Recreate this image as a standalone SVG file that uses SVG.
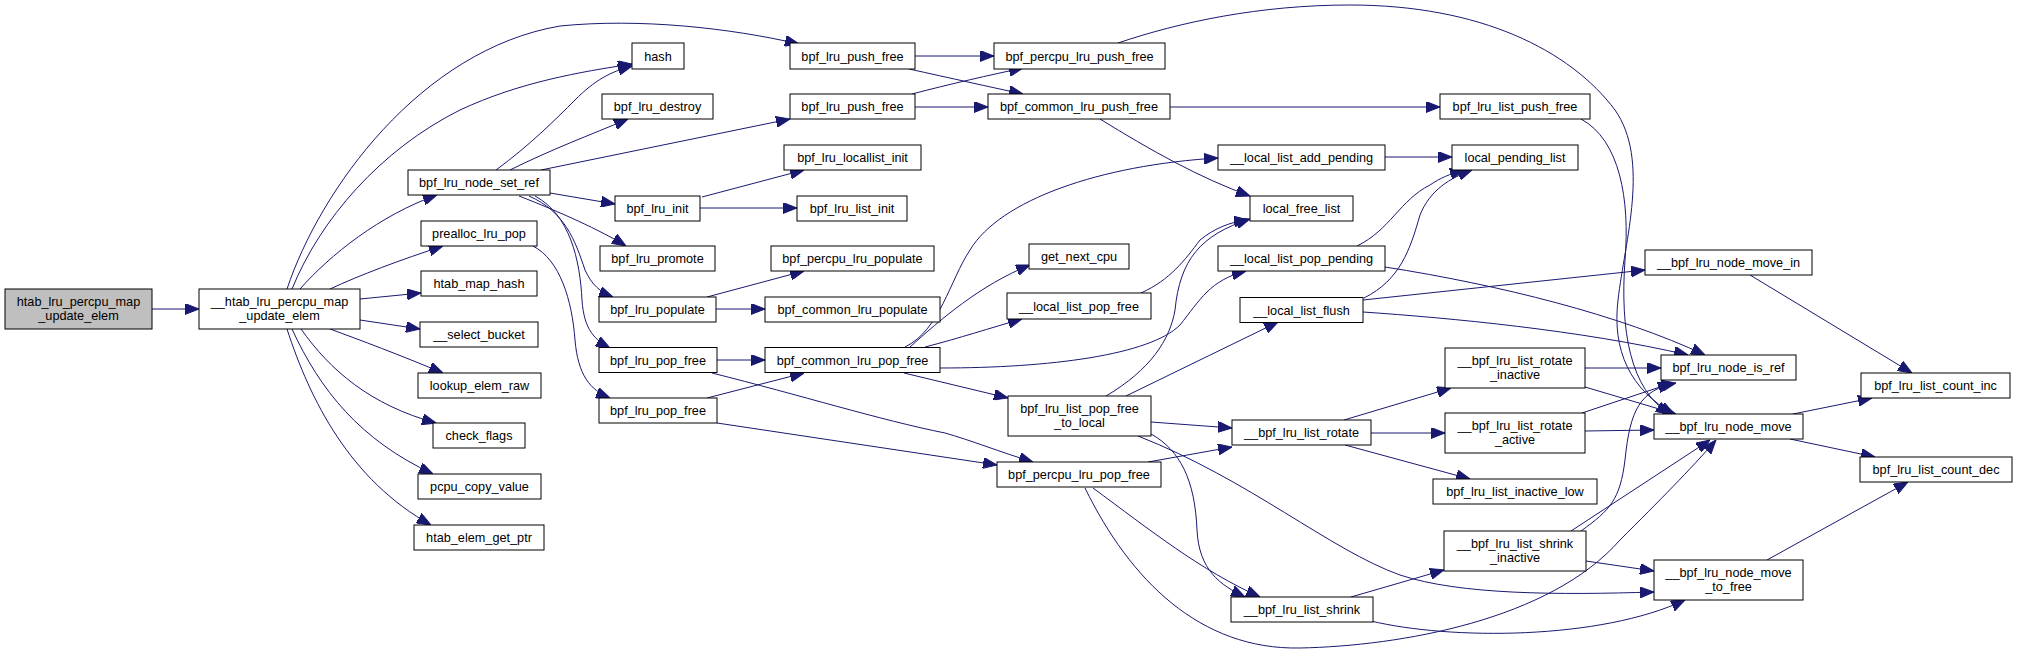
<svg xmlns="http://www.w3.org/2000/svg" width="2017" height="656" viewBox="0 0 2017 656">
<style>
.n rect{fill:#fff;stroke:#000;stroke-width:1}
.root rect{fill:#bfbfbf}
text{font-family:"Liberation Sans",Arial,sans-serif;font-size:12.7px;fill:#000;text-anchor:middle}
.e path{fill:none;stroke:#191970;stroke-width:1;marker-end:url(#ah)}
</style>
<defs>
<marker id="ah" markerUnits="userSpaceOnUse" markerWidth="14" markerHeight="11" viewBox="0 0 14 11" refX="14" refY="5.5" orient="auto"><path d="M0,0 L14,5.5 L0,11 z" fill="#191970" stroke="#191970" stroke-width="1"/></marker>
</defs>
<rect width="2017" height="656" fill="#fff"/>
<g class="e" id="edges">
<path d="M152,309 L199,309"/>
<path d="M287,289 C320,190 420,50 560,26 C640,18 730,28 799,44"/>
<path d="M292,289 C320,220 380,150 460,110 C520,82 580,72 632,64"/>
<path d="M300,289 C330,255 380,215 437,195"/>
<path d="M330,289 C360,275 400,260 443,246"/>
<path d="M360,299 L421,293"/>
<path d="M360,320 L420,329"/>
<path d="M330,329 C360,340 400,355 443,373"/>
<path d="M301,329 C330,370 370,405 436,423"/>
<path d="M292,329 C320,390 360,440 433,474"/>
<path d="M287,329 C310,400 350,480 431,525"/>
<path d="M496,170 C530,145 555,120 575,100 C595,80 610,72 632,66"/>
<path d="M510,170 C550,150 590,135 628,119"/>
<path d="M541,170 L790,119"/>
<path d="M550,193 L615,204"/>
<path d="M519,196 C560,212 600,230 626,246"/>
<path d="M529,196 C565,212 575,240 585,270 C592,285 600,292 613,297"/>
<path d="M535,196 C570,215 580,260 582,300 C584,330 595,340 610,348"/>
<path d="M533,246 C560,260 572,300 575,340 C578,375 590,390 610,398"/>
<path d="M915,56 L994,56"/>
<path d="M909,69 C950,78 990,87 1023,94"/>
<path d="M915,107 L988,107"/>
<path d="M912,94 C950,84 990,75 1023,68"/>
<path d="M1118,43 C1180,22 1260,5 1350,5 C1480,5 1570,50 1615,110 C1650,160 1625,240 1618,300 C1612,350 1630,390 1674,414"/>
<path d="M1581,119 C1620,140 1630,200 1625,260 C1620,330 1630,390 1670,414"/>
<path d="M1170,107 L1440,107"/>
<path d="M1100,119 C1150,150 1200,178 1250,196"/>
<path d="M905,347 C940,330 950,280 970,250 C1000,200 1100,165 1218,158"/>
<path d="M910,347 C940,320 980,285 1030,265"/>
<path d="M925,347 C960,338 990,328 1022,319"/>
<path d="M940,368 C1050,368 1150,355 1180,325 C1200,300 1210,280 1246,271"/>
<path d="M904,373 L1008,398"/>
<path d="M1106,396 C1150,370 1170,340 1175,310 C1180,260 1200,235 1250,219"/>
<path d="M1126,396 L1278,322"/>
<path d="M1151,422 L1232,428"/>
<path d="M1151,434 C1180,450 1195,480 1197,530 C1199,570 1220,585 1245,597"/>
<path d="M1138,436 C1250,480 1330,550 1400,575 C1460,595 1560,595 1654,592"/>
<path d="M1148,462 L1232,447"/>
<path d="M1093,488 C1150,530 1200,570 1260,597"/>
<path d="M1085,488 C1130,580 1200,650 1300,648 C1400,646 1550,620 1620,540 C1660,500 1690,470 1716,440"/>
<path d="M1351,597 L1444,570"/>
<path d="M1371,621 C1450,640 1600,640 1685,600"/>
<path d="M1581,531 C1610,510 1620,500 1625,460 C1630,410 1640,390 1676,383"/>
<path d="M1571,531 L1710,440"/>
<path d="M1586,561 L1654,571"/>
<path d="M1344,420 L1451,388"/>
<path d="M1371,433 L1445,433"/>
<path d="M1345,445 L1470,479"/>
<path d="M1585,368 L1661,368"/>
<path d="M1585,387 L1676,414"/>
<path d="M1582,413 L1672,383"/>
<path d="M1585,431 L1654,430"/>
<path d="M1385,157 L1452,157"/>
<path d="M1357,246 C1390,230 1400,200 1430,185 C1440,178 1450,174 1464,170"/>
<path d="M1385,267 C1500,285 1620,315 1705,355"/>
<path d="M1364,298 C1400,280 1410,250 1420,215 C1430,190 1450,178 1472,170"/>
<path d="M1363,300 L1645,270"/>
<path d="M1363,312 C1450,318 1580,330 1688,355"/>
<path d="M1141,293 C1170,280 1185,260 1200,240 C1215,228 1230,222 1248,220"/>
<path d="M1750,275 L1912,373"/>
<path d="M1793,414 L1872,398"/>
<path d="M1790,439 L1875,457"/>
<path d="M1767,560 L1908,482"/>
<path d="M702,197 L804,170"/>
<path d="M700,208 L797,208"/>
<path d="M707,297 L804,271"/>
<path d="M716,309 L765,309"/>
<path d="M717,360 L765,360"/>
<path d="M712,373 C800,395 880,420 945,433 C970,440 1000,452 1033,462"/>
<path d="M707,398 L804,373"/>
<path d="M717,423 L997,465"/>
</g>
<g id="n_root" class="n root"><rect x="5" y="289" width="147" height="40"/><text x="78.5" y="306">htab_lru_percpu_map</text><text x="78.5" y="320">_update_elem</text></g>
<g id="n_htab_update" class="n"><rect x="199" y="289" width="161" height="40"/><text x="279.5" y="306">__htab_lru_percpu_map</text><text x="279.5" y="320">_update_elem</text></g>
<g id="n_hash" class="n"><rect x="632" y="43" width="52" height="26"/><text x="658" y="60.5">hash</text></g>
<g id="n_bpf_lru_destroy" class="n"><rect x="602" y="94" width="111" height="25"/><text x="657.5" y="111">bpf_lru_destroy</text></g>
<g id="n_node_set_ref" class="n"><rect x="408" y="170" width="142" height="25"/><text x="479" y="187">bpf_lru_node_set_ref</text></g>
<g id="n_bpf_lru_init" class="n"><rect x="615" y="196" width="85" height="25"/><text x="657.5" y="213">bpf_lru_init</text></g>
<g id="n_prealloc_lru_pop" class="n"><rect x="421" y="221" width="116" height="25"/><text x="479" y="238">prealloc_lru_pop</text></g>
<g id="n_bpf_lru_promote" class="n"><rect x="600" y="246" width="115" height="25"/><text x="657.5" y="263">bpf_lru_promote</text></g>
<g id="n_htab_map_hash" class="n"><rect x="421" y="271" width="116" height="25"/><text x="479" y="288">htab_map_hash</text></g>
<g id="n_bpf_lru_populate" class="n"><rect x="599" y="297" width="117" height="25"/><text x="657.5" y="314">bpf_lru_populate</text></g>
<g id="n_select_bucket" class="n"><rect x="420" y="322" width="118" height="25"/><text x="479" y="339">__select_bucket</text></g>
<g id="n_bpf_lru_pop_free_1" class="n"><rect x="599" y="347.5" width="118" height="25"/><text x="658" y="364.5">bpf_lru_pop_free</text></g>
<g id="n_lookup_elem_raw" class="n"><rect x="418" y="373" width="123" height="25"/><text x="479.5" y="390">lookup_elem_raw</text></g>
<g id="n_bpf_lru_pop_free_2" class="n"><rect x="599" y="398" width="118" height="25"/><text x="658" y="415">bpf_lru_pop_free</text></g>
<g id="n_check_flags" class="n"><rect x="433" y="423" width="92" height="25"/><text x="479" y="440">check_flags</text></g>
<g id="n_pcpu_copy_value" class="n"><rect x="418" y="474" width="123" height="25"/><text x="479.5" y="491">pcpu_copy_value</text></g>
<g id="n_htab_elem_get_ptr" class="n"><rect x="414" y="525" width="130" height="25"/><text x="479" y="542">htab_elem_get_ptr</text></g>
<g id="n_bpf_lru_push_free_1" class="n"><rect x="790" y="43" width="125" height="26"/><text x="852.5" y="60.5">bpf_lru_push_free</text></g>
<g id="n_bpf_lru_push_free_2" class="n"><rect x="790" y="94" width="125" height="25"/><text x="852.5" y="111">bpf_lru_push_free</text></g>
<g id="n_locallist_init" class="n"><rect x="784" y="145" width="137" height="25"/><text x="852.5" y="162">bpf_lru_locallist_init</text></g>
<g id="n_list_init" class="n"><rect x="797" y="196" width="110" height="25"/><text x="852" y="213">bpf_lru_list_init</text></g>
<g id="n_percpu_populate" class="n"><rect x="771" y="246" width="163" height="25"/><text x="852.5" y="263">bpf_percpu_lru_populate</text></g>
<g id="n_common_populate" class="n"><rect x="765" y="297" width="175" height="25"/><text x="852.5" y="314">bpf_common_lru_populate</text></g>
<g id="n_common_pop_free" class="n"><rect x="765" y="347.5" width="175" height="25"/><text x="852.5" y="364.5">bpf_common_lru_pop_free</text></g>
<g id="n_percpu_push_free" class="n"><rect x="994" y="43" width="171" height="26"/><text x="1079.5" y="60.5">bpf_percpu_lru_push_free</text></g>
<g id="n_common_push_free" class="n"><rect x="988" y="94" width="182" height="25"/><text x="1079" y="111">bpf_common_lru_push_free</text></g>
<g id="n_add_pending" class="n"><rect x="1218" y="145" width="167" height="25"/><text x="1301.5" y="162">__local_list_add_pending</text></g>
<g id="n_local_free_list" class="n"><rect x="1250" y="196" width="103" height="25"/><text x="1301.5" y="213">local_free_list</text></g>
<g id="n_get_next_cpu" class="n"><rect x="1029" y="244" width="100" height="25"/><text x="1079" y="261">get_next_cpu</text></g>
<g id="n_pop_pending" class="n"><rect x="1218" y="246" width="167" height="25"/><text x="1301.5" y="263">__local_list_pop_pending</text></g>
<g id="n_local_pop_free" class="n"><rect x="1007" y="293" width="144" height="26"/><text x="1079" y="310.5">__local_list_pop_free</text></g>
<g id="n_flush" class="n"><rect x="1240" y="297.5" width="123" height="25"/><text x="1301.5" y="314.5">__local_list_flush</text></g>
<g id="n_pop_free_to_local" class="n"><rect x="1008" y="396" width="143" height="40"/><text x="1079.5" y="413">bpf_lru_list_pop_free</text><text x="1079.5" y="427">_to_local</text></g>
<g id="n_percpu_pop_free" class="n"><rect x="997" y="462" width="164" height="25"/><text x="1079" y="479">bpf_percpu_lru_pop_free</text></g>
<g id="n_rotate" class="n"><rect x="1232" y="420" width="139" height="25"/><text x="1301.5" y="437">__bpf_lru_list_rotate</text></g>
<g id="n_shrink" class="n"><rect x="1231" y="597" width="142" height="25"/><text x="1302" y="614">__bpf_lru_list_shrink</text></g>
<g id="n_list_push_free" class="n"><rect x="1440" y="94" width="150" height="25"/><text x="1515" y="111">bpf_lru_list_push_free</text></g>
<g id="n_local_pending_list" class="n"><rect x="1452" y="145" width="126" height="25"/><text x="1515" y="162">local_pending_list</text></g>
<g id="n_node_move_in" class="n"><rect x="1645" y="250" width="167" height="25"/><text x="1728.5" y="267">__bpf_lru_node_move_in</text></g>
<g id="n_rotate_inactive" class="n"><rect x="1445" y="348" width="140" height="40"/><text x="1515" y="365">__bpf_lru_list_rotate</text><text x="1515" y="379">_inactive</text></g>
<g id="n_rotate_active" class="n"><rect x="1445" y="413" width="140" height="40"/><text x="1515" y="430">__bpf_lru_list_rotate</text><text x="1515" y="444">_active</text></g>
<g id="n_inactive_low" class="n"><rect x="1433" y="479" width="164" height="25"/><text x="1515" y="496">bpf_lru_list_inactive_low</text></g>
<g id="n_shrink_inactive" class="n"><rect x="1444" y="531" width="142" height="40"/><text x="1515" y="548">__bpf_lru_list_shrink</text><text x="1515" y="562">_inactive</text></g>
<g id="n_node_is_ref" class="n"><rect x="1661" y="355" width="135" height="25"/><text x="1728.5" y="372">bpf_lru_node_is_ref</text></g>
<g id="n_node_move" class="n"><rect x="1654" y="414" width="149" height="25"/><text x="1728.5" y="431">__bpf_lru_node_move</text></g>
<g id="n_node_move_to_free" class="n"><rect x="1654" y="560" width="149" height="40"/><text x="1728.5" y="577">__bpf_lru_node_move</text><text x="1728.5" y="591">_to_free</text></g>
<g id="n_count_inc" class="n"><rect x="1861" y="373" width="149" height="25"/><text x="1935.5" y="390">bpf_lru_list_count_inc</text></g>
<g id="n_count_dec" class="n"><rect x="1860" y="457" width="152" height="25"/><text x="1936" y="474">bpf_lru_list_count_dec</text></g>
</svg>
